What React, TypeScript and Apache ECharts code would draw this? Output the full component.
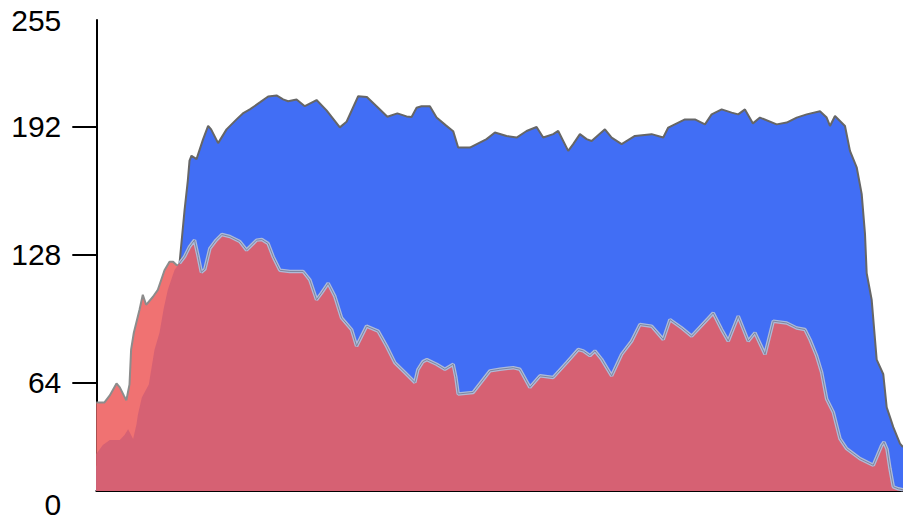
import React, { useEffect, useRef } from "react";
import * as echarts from "echarts";

// Intensity levels (x) and heights (y)
const blueLevels = [0, 10.59, 16.92, 23.24, 26.31, 27.89, 28.93, 29.47, 30.1, 31.68, 33.77, 35.35, 36.3, 38.51, 41.17, 44.33, 46.32, 48.53, 51.7, 54.32, 56.98, 59.06, 60.64, 63.3, 65.92, 69.62, 72.78, 76.99, 79.11, 82.78, 85.53, 89.0, 92.01, 95.17, 98.08, 99.66, 101.24, 102.82, 105.45, 107.56, 110.5, 112.81, 114.39, 118.09, 123.37, 126.0, 129.7, 132.86, 136.02, 139.18, 141.27, 144.43, 146.01, 149.17, 150.75, 152.87, 154.99, 156.57, 160.78, 162.9, 166.06, 170.26, 175.54, 179.21, 180.79, 186.07, 189.23, 192.4, 194.51, 197.68, 200.84, 202.92, 205.04, 207.57, 209.78, 215.07, 218.23, 221.39, 224.55, 228.76, 230.87, 231.92, 233.5, 236.66, 238.24, 240.36, 241.94, 242.98, 243.52, 245.1, 246.68, 248.77, 249.85, 250.89, 251.93, 254.05, 255];
const blueValues = [21.7, 29.2, 56.5, 106.3, 123.7, 150.2, 165.1, 175.1, 177.6, 175.9, 185.9, 192.5, 190.8, 183.9, 190.8, 195.8, 198.8, 200.8, 204.3, 207.3, 207.8, 205.8, 204.9, 205.8, 202.4, 205.5, 200.3, 191.8, 194.6, 207.4, 207.0, 201.8, 197.1, 198.8, 197.3, 197.0, 201.6, 202.4, 202.4, 196.7, 192.8, 189.9, 181.7, 181.7, 185.9, 189.2, 187.5, 186.7, 190.0, 192.0, 186.7, 188.4, 190.0, 180.0, 183.4, 188.4, 185.9, 185.0, 190.8, 186.7, 183.4, 187.5, 188.4, 186.7, 191.7, 195.8, 195.8, 193.3, 198.3, 200.8, 199.2, 198.3, 200.8, 193.8, 196.7, 193.3, 194.2, 196.7, 198.3, 199.9, 196.7, 192.5, 197.5, 192.5, 180.0, 171.8, 158.5, 138.6, 118.7, 105.4, 75.4, 68.1, 51.5, 46.6, 41.6, 33.3, 31.6];

const salmonLevels = [0, 2.59, 4.27, 6.39, 7.43, 8.69, 9.49, 10.5, 11.0, 11.86, 13.66, 14.7, 15.75, 17.86, 19.45, 21.56, 23.14, 24.28, 25.45, 26.81];
const salmonValues = [54.0, 54.0, 57.5, 63.5, 61.5, 57.5, 55.0, 63.0, 80.4, 88.9, 100.4, 107.9, 102.9, 106.8, 110.4, 120.2, 124.5, 124.5, 122.7, 122.8];

const crimsonLevels = [0, 2.06, 4.27, 7.43, 8.92, 10.05, 11.64, 12.71, 13.12, 14.39, 16.6, 18.4, 19.98, 21.34, 22.61, 24.73, 26.31, 27.89, 29.47, 31.05, 32.19, 33.2, 34.31, 35.89, 37.88, 39.68, 42.21, 45.37, 47.49, 50.65, 52.33, 54.32, 55.9, 58.02, 61.18, 65.39, 67.5, 69.62, 71.2, 73.29, 75.41, 77.53, 80.69, 82.27, 83.85, 85.43, 89.1, 91.76, 94.38, 97.54, 100.7, 101.65, 103.23, 104.5, 107.56, 110.19, 112.81, 113.67, 114.39, 119.14, 124.42, 127.58, 131.78, 133.9, 137.06, 140.23, 144.43, 148.67, 152.34, 153.92, 156.03, 157.62, 159.73, 162.9, 166.06, 169.22, 171.84, 175.54, 179.21, 181.33, 185.03, 188.19, 195.02, 197.68, 199.76, 202.92, 206.08, 208.2, 211.37, 213.99, 218.23, 221.39, 224.01, 225.59, 227.71, 229.29, 230.87, 232.96, 235.08, 237.2, 241.4, 245.61, 248.26, 248.99, 249.94, 250.89, 251.93, 253.51, 255];
const crimsonValues = [28.2, 32.6, 35.1, 35.1, 37.6, 40.6, 35.6, 43.1, 47.6, 56.5, 63.0, 80.4, 88.9, 101.3, 110.4, 120.3, 123.7, 127.0, 132.0, 135.3, 127.2, 119.2, 120.7, 131.1, 135.3, 138.1, 137.1, 134.6, 130.3, 135.3, 135.6, 133.6, 127.0, 120.2, 119.6, 119.6, 115.4, 105.4, 108.8, 113.7, 107.1, 96.3, 90.5, 82.2, 87.2, 92.2, 89.7, 82.2, 73.9, 69.0, 64.0, 70.4, 74.4, 75.4, 73.1, 70.6, 73.1, 66.5, 58.2, 59.0, 69.8, 70.6, 71.4, 70.6, 61.5, 67.3, 66.5, 73.9, 80.5, 79.8, 77.4, 79.8, 75.6, 67.3, 78.1, 84.7, 93.0, 92.2, 85.5, 95.5, 91.3, 87.2, 98.8, 90.5, 84.7, 97.2, 84.7, 88.9, 78.1, 94.7, 93.8, 91.3, 90.5, 85.5, 77.3, 69.0, 55.7, 49.1, 35.8, 30.8, 25.8, 22.5, 32.5, 34.1, 30.6, 20.8, 11.7, 10.7, 10.2];

// Y axis: the drawn axis spans these values; end labels read "0" and "255"
const Y_MIN = 9.6;
const Y_MAX = 245.6;
const tickValues = [64, 128, 192];
const labelValues = [Y_MIN, 64, 128, 192, Y_MAX];
const labelTexts = ["0", "64", "128", "192", "255"];
const CRIMSON_OUTLINE_FROM = 26.31;

const zip = (xs: number[], ys: number[]) => xs.map((x, i) => [x, ys[i]]);

export default function App() {
  const ref = useRef<HTMLDivElement>(null);
  useEffect(() => {
    if (!ref.current) return;
    const chart = echarts.init(ref.current, undefined, { renderer: "svg" });
    const crimsonData = zip(crimsonLevels, crimsonValues);
    const crimsonOutline = crimsonData.filter((p) => p[0] >= CRIMSON_OUTLINE_FROM);
    chart.setOption({
      animation: false,
      backgroundColor: "#ffffff",
      grid: { left: 96.3, right: 0, top: 20, bottom: 24.5 },
      xAxis: {
        type: "value",
        min: 0,
        max: 255,
        axisLine: { show: true, onZero: false, lineStyle: { color: "#000", width: 2 } },
        axisTick: { show: false },
        axisLabel: { show: false },
        splitLine: { show: false },
      },
      yAxis: {
        type: "value",
        min: Y_MIN,
        max: Y_MAX,
        axisLine: { show: true, lineStyle: { color: "#000", width: 2 } },
        axisTick: {
          show: true,
          length: 24,
          customValues: tickValues,
          lineStyle: { color: "#000", width: 2 },
        },
        axisLabel: {
          show: true,
          customValues: labelValues,
          margin: 35,
          color: "#000",
          fontSize: 30,
          fontFamily: "Liberation Sans",
          formatter: (v: number) => {
            const i = labelValues.findIndex((x) => Math.abs(x - v) < 0.01);
            const t = i >= 0 ? labelTexts[i] : "";
            return i === 0 ? "{z|" + t + "}" : t;
          },
          rich: {
            z: { fontSize: 30, fontFamily: "Liberation Sans", color: "#000", padding: [26, 0, 0, 0] },
          },
        },
        splitLine: { show: false },
      },
      series: [
        {
          type: "line",
          z: 1,
          silent: true,
          showSymbol: false,
          data: zip(blueLevels, blueValues),
          lineStyle: { color: "#666666", width: 2 },
          areaStyle: { color: "#416EF5", opacity: 1 },
        },
        {
          type: "line",
          z: 2,
          silent: true,
          showSymbol: false,
          data: zip(salmonLevels, salmonValues),
          lineStyle: { color: "#8c8c8c", width: 2 },
          areaStyle: { color: "#F07272", opacity: 1 },
        },
        {
          type: "line",
          z: 3,
          silent: true,
          showSymbol: false,
          data: crimsonData,
          lineStyle: { width: 0 },
          areaStyle: { color: "#D66173", opacity: 1 },
        },
        {
          type: "line",
          z: 4,
          silent: true,
          showSymbol: false,
          data: crimsonOutline,
          lineStyle: { color: "#aebbd9", width: 3.5 },
        },
        {
          type: "line",
          z: 5,
          silent: true,
          showSymbol: false,
          data: crimsonOutline,
          lineStyle: { color: "#7d869c", width: 1 },
        },
      ],
    });
    return () => chart.dispose();
  }, []);
  return (
    <div
      ref={ref}
      style={{ position: "absolute", left: 0, top: 0, width: 903, height: 519 }}
    />
  );
}
